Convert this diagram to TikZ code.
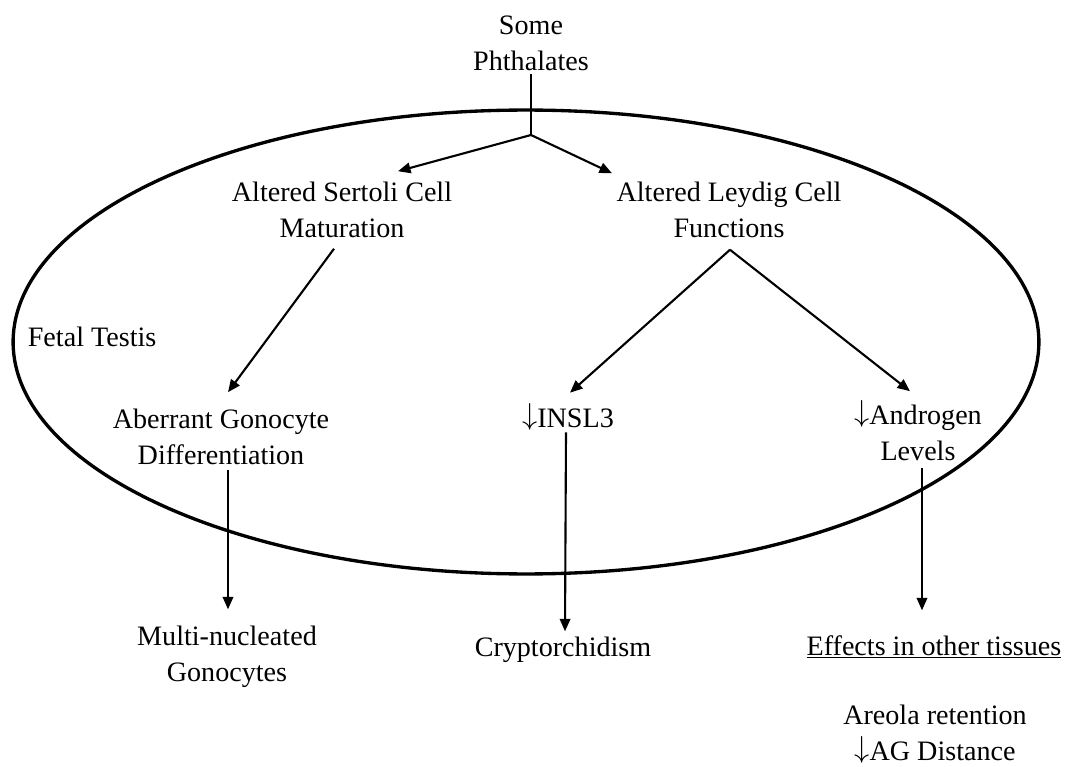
\documentclass[tikz,border=0pt]{standalone}
\usepackage{fontspec}
\setmainfont{Liberation Serif}
\usetikzlibrary{arrows.meta}
\newcommand{\dn}{\smash{\raisebox{0.1em}{$\downarrow$}}}
\begin{document}
\begin{tikzpicture}[x=0.02cm,y=-0.02cm,font=\fontsize{16}{20.5}\selectfont,
		txt/.style={align=center,inner sep=2pt},
		arr/.style={line width=1.2pt,-{Triangle[length=2.5mm,width=2.1mm]}}]
			\draw[line width=1.9pt](526,342)ellipse[x radius=10.26cm,y radius=4.64cm];
			\node[txt](phth)at(531,43){Some\\Phthalates};
			\coordinate(jn)at(531,135);
			\node[txt](sertoli)at(342,210){Altered Sertoli Cell\\Maturation};
			\node[txt](leydig)at(729,210){Altered Leydig Cell\\Functions};
			\node[txt,anchor=west](fetal)at(24,337){Fetal Testis};
			\node[txt](aberrant)at(221,437){Aberrant Gonocyte\\Differentiation};
			\node[txt](insl)at(568,418){\dn INSL3};
			\node[txt](andro)at(918,433){\dn Androgen\\Levels};
			\node[txt](multi)at(227,657){Multi-nucleated\\Gonocytes};
			\node[txt](crypt)at(563,650){Cryptorchidism};
			\node[txt](effects)at(934,647){\underline{Effects in other tissues}};
			\node[txt](areola)at(935,733){Areola retention\\\dn AG Distance};
			% arrows
			\draw[line width=1.2pt](phth)--(jn);
			\draw[arr](jn)--([shift={(56,-7)}]sertoli.north);
			\draw[arr](jn)--([shift={(-117,-5)}]leydig.north);
			\draw[arr]([shift={(-8,7)}]sertoli.south)--([shift={(7,-13)}]aberrant.north);
			\draw[arr]([shift={(1,8)}]leydig.south)--([shift={(2,-12)}]insl.north);
			\draw[arr]([shift={(1,8)}]leydig.south)--([shift={(-8,-10)}]andro.north);
			\draw[arr]([shift={(7,1)}]aberrant.south)--([shift={(1,-13)}]multi.north);
			\draw[arr]([shift={(-2,1)}]insl.south)--([shift={(2,-2)}]crypt.north);
			\draw[arr]([shift={(4,3)}]andro.south)--([shift={(-12,-21)}]effects.north);
			\pgfresetboundingbox
			\path[use as bounding box](0,0)rectangle(1066,767);
		\end{tikzpicture}
\end{document}
